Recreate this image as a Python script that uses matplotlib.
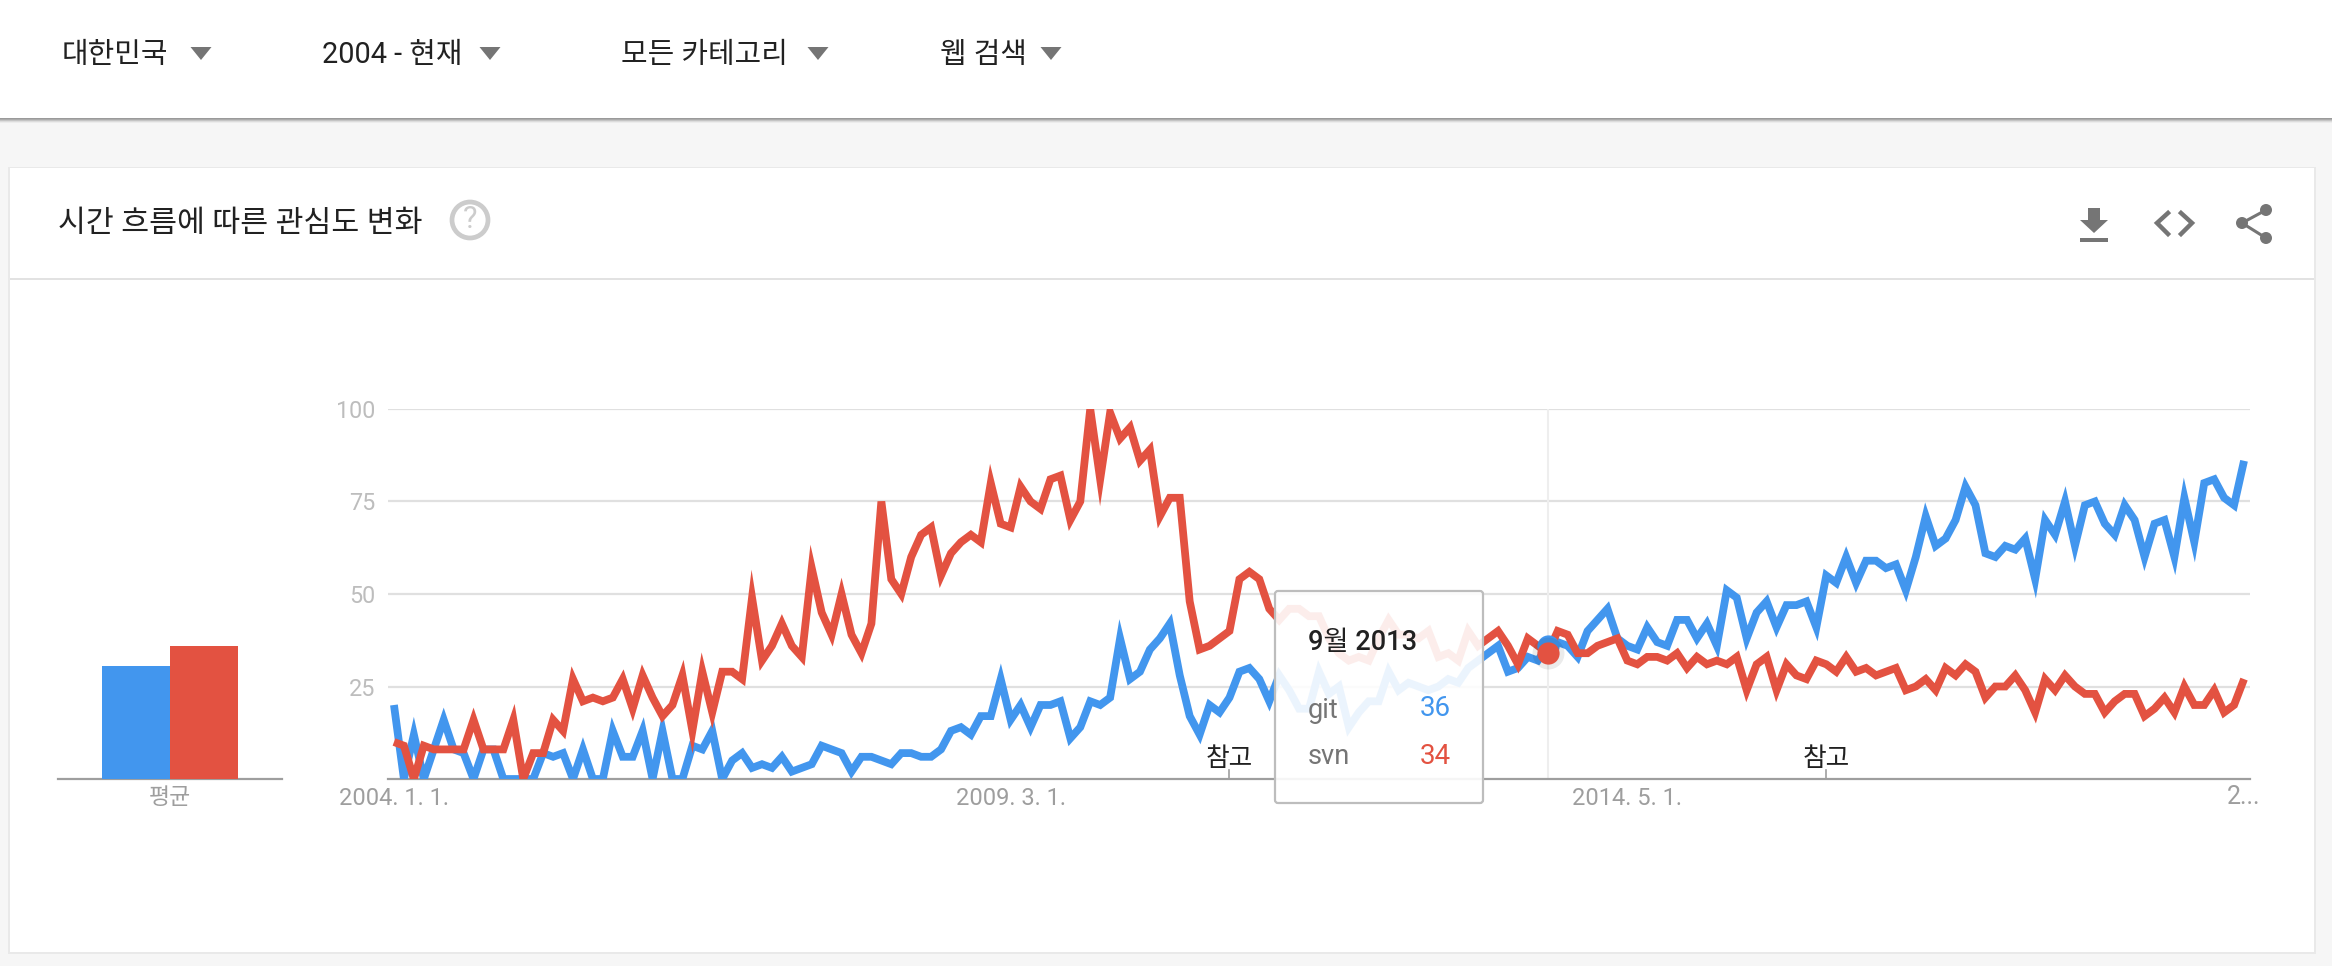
import matplotlib
matplotlib.use('Agg')
import matplotlib.pyplot as plt
from matplotlib.patches import Rectangle, Circle, Polygon, FancyBboxPatch

plt.rcParams['font.family'] = ['Roboto', 'Noto Sans CJK KR', 'DejaVu Sans']

# monthly values, index 0 = 2004. 1.
git = [20, 0, 12, 0, 8, 16, 8, 7, 0, 8,
       8, 0, 0, 0, 0, 7, 6, 7, 0, 8,
       0, 0, 13, 6, 6, 13, 0, 13, 0, 0,
       9, 8, 13, 0, 5, 7, 3, 4, 3, 6,
       2, 3, 4, 9, 8, 7, 2, 6, 6, 5,
       4, 7, 7, 6, 6, 8, 13, 14, 12, 17,
       17, 27, 16, 20, 14, 20, 20, 21, 11, 14,
       21, 20, 22, 38, 27, 29, 35, 38, 42, 28,
       17, 12, 20, 18, 22, 29, 30, 27, 21, 28,
       24, 19, 19, 29, 23, 25, 14, 18, 21, 21,
       29, 24, 26, 25, 24, 25, 27, 26, 30, 32,
       34, 36, 29, 30, 33, 32, 36, 37, 36, 33,
       40, 43, 46, 38, 36, 35, 41, 37, 36, 43,
       43, 38, 42, 36, 51, 49,
       38, 45, 48, 41, 47, 47, 48, 41, 55, 53, 60, 53, 59, 59, 57, 58, 51,
       60, 71, 63, 65, 70, 79, 74, 61, 60, 63, 62, 65, 54, 70, 66, 75, 63,
       74, 75, 69, 66, 74, 70, 60, 69, 70, 60, 76, 64, 80, 81, 76, 74, 86]
svn = [10, 9, 0, 9, 8, 8, 8, 8, 16, 8,
       8, 8, 16, 0, 7, 7, 16, 13, 27, 21,
       22, 21, 22, 27, 19, 28, 22, 17, 20, 28,
       13, 29, 18, 29, 29, 27, 49, 32, 36, 42,
       36, 33, 57, 45, 39, 50, 39, 34, 42, 75,
       54, 50, 60, 66, 68, 55, 61, 64, 66, 64,
       80, 69, 68, 79, 75, 73, 81, 82, 70, 75,
       100, 81, 99, 92, 95, 86, 89, 71, 76, 76,
       48, 35, 36, 38, 40, 54, 56, 54, 46, 43,
       46, 46, 44, 44, 38, 34, 32, 33, 32, 38,
       43, 39, 39, 38, 40, 33, 34, 32, 40, 36,
       38, 40, 36, 31, 38, 36, 34, 40, 39, 34,
       34, 36, 37, 38, 32, 31, 33, 33, 32, 34,
       30, 33, 31, 32, 31, 33,
       24, 31, 33, 24, 31, 28, 27, 32, 31, 29, 33, 29, 30, 28, 29, 30, 24,
       25, 27, 24, 30, 28, 31, 29, 22, 25, 25, 28, 24, 18, 27, 24, 28, 25,
       23, 23, 18, 21, 23, 23, 17, 19, 22, 18, 25, 20, 20, 24, 18, 20, 27]
averages = [30.5, 36]
y_ticks = [25, 50, 75, 100]
x_labels = ['2004. 1. 1.', '2009. 3. 1.', '2014. 5. 1.']
x_label_months = [0, 62, 124]
note_months = [84, 144]
hover_month = 116
hover_title = '9월 2013'
filters = ['대한민국', '2004 - 현재', '모든 카테고리', '웹 검색']

BLUE = '#4296ee'
RED = '#e35241'
W, H = 2332, 966


def pixel_axes(zorder):
    a = fig.add_axes([0, 0, 1, 1], zorder=zorder)
    a.set_xlim(0, W)
    a.set_ylim(H, 0)
    a.axis('off')
    return a


fig = plt.figure(figsize=(W / 100, H / 100), dpi=100, facecolor='#f6f6f6')
bg = pixel_axes(0)
top = pixel_axes(3)

# page chrome
for i, c in enumerate(['#9a9a9a', '#ababab', '#c4c4c4', '#dcdcdc', '#ececec']):
    bg.add_patch(Rectangle((0, 118 + i), W, 1.2, color=c, lw=0))
bg.add_patch(Rectangle((0, 0), W, 118, color='white', lw=0))
bg.add_patch(Rectangle((8, 167), 2308, 787, color='#e9e9e9', lw=0))
bg.add_patch(Rectangle((10, 168), 2304, 784, color='white', lw=0))
bg.add_patch(Rectangle((10, 278), 2304, 2, color='#e2e2e2', lw=0))

filter_x = [62, 322, 621, 940]
arrow_x = [201, 490, 818, 1051]
for name, tx, ax_ in zip(filters, filter_x, arrow_x):
    bg.text(tx, 55, name, fontsize=20.8, color='#212121', va='center', ha='left')
    bg.add_patch(Polygon([(ax_ - 10.5, 47), (ax_ + 10.5, 47), (ax_, 60)], color='#757575', lw=0))

bg.text(58, 224, '시간 흐름에 따른 관심도 변화', fontsize=21.8, color='#212121', va='center', ha='left')
bg.add_patch(Circle((470, 220), 18, fc='white', ec='#cccccc', lw=3.4))
bg.text(470, 220, '?', fontsize=22, color='#cccccc', va='center', ha='center')

# download / embed / share icons
ICON = '#757575'
bg.add_patch(Polygon([(2088, 208), (2100, 208), (2100, 220), (2108, 220), (2094, 233),
                      (2080, 220), (2088, 220)], color=ICON, lw=0))
bg.add_patch(Rectangle((2080, 238), 28, 4, color=ICON, lw=0))
bg.plot([2168, 2157, 2168], [213, 223, 234], color=ICON, lw=3.2, solid_joinstyle='miter')
bg.plot([2181, 2192, 2181], [213, 223, 234], color=ICON, lw=3.2, solid_joinstyle='miter')
bg.plot([2266, 2242, 2266], [210, 223, 238], color=ICON, lw=2.2)
for cx, cy in [(2266, 210), (2242, 223), (2266, 238)]:
    bg.add_patch(Circle((cx, cy), 6, color=ICON, lw=0))

# average bars
avg = fig.add_axes([58 / W, 1 - 779 / H, 224 / W, 370 / H], zorder=1)
avg.bar([0, 1], averages, width=1, color=[BLUE, RED])
avg.set_xlim(-1.147, 2.147)
avg.set_ylim(0, 100)
avg.axis('off')
bg.plot([58, 282], [779, 779], color='#9e9e9e', lw=1.6)
bg.text(170, 798, '평균', fontsize=16.5, color='#9e9e9e', va='center', ha='center')

# line chart
chart = fig.add_axes([388 / W, 1 - 779 / H, 1862 / W, 370 / H], zorder=2)
chart.patch.set_alpha(0)
months = list(range(len(git)))
chart.set_xlim(-0.6, 186.6)
chart.set_ylim(0, 100)
for s in ['top', 'left', 'right']:
    chart.spines[s].set_visible(False)
chart.spines['bottom'].set_color('#9e9e9e')
chart.spines['bottom'].set_linewidth(1.6)
chart.set_xticks(x_label_months)
chart.set_xticklabels(x_labels, fontsize=17, color='#9e9e9e')
chart.set_yticks(y_ticks)
chart.set_yticklabels(y_ticks, fontsize=16.8, color='#bdbdbd')
chart.tick_params(axis='x', length=0, pad=6)
chart.tick_params(axis='y', length=0, pad=9)
chart.grid(axis='y', color='#e0e0e0', lw=1.6)
chart.set_axisbelow(True)
chart.axvline(hover_month, color='#eeeeee', lw=1.5, zorder=1)
chart.plot(months, git, color=BLUE, lw=5.6, solid_joinstyle='miter', solid_capstyle='butt', zorder=3)
chart.plot(months, svn, color=RED, lw=5.6, solid_joinstyle='miter', solid_capstyle='butt', zorder=4)
chart.plot(hover_month, git[hover_month], 'o', ms=16, color=BLUE, mec='none', zorder=5)
chart.plot(hover_month, svn[hover_month], 'o', ms=23, color='#000000', alpha=0.08, mec='none', zorder=5)
chart.plot(hover_month, svn[hover_month], 'o', ms=16, color=RED, mec='none', zorder=6)
for m in note_months:
    chart.plot([m, m], [0, 2.5], color='#9e9e9e', lw=1.2, zorder=2)
    chart.text(m, 5.3, '참고', fontsize=18.5, color='#212121', va='center', ha='center')
chart.text(187.6, -5, '2...', fontsize=18, color='#9e9e9e', va='center', ha='right', clip_on=False)

# tooltip on top of the lines
top.add_patch(FancyBboxPatch((1275, 591), 208, 212, boxstyle='round,pad=0,rounding_size=3',
                             fc=(1, 1, 1, 0.9), ec='#bdbdbd', lw=1.6))
top.text(1308, 642, hover_title, fontsize=19.6, fontweight='medium', color='#212121', va='center', ha='left')
top.text(1308, 710, 'git', fontsize=19.6, color='#757575', va='center', ha='left')
top.text(1451, 708, str(git[hover_month]), fontsize=20, color=BLUE, va='center', ha='right')
top.text(1308, 756, 'svn', fontsize=19.6, color='#757575', va='center', ha='left')
top.text(1451, 756, str(svn[hover_month]), fontsize=20, color=RED, va='center', ha='right')

fig.savefig('out.png', dpi=100, facecolor=fig.get_facecolor())
